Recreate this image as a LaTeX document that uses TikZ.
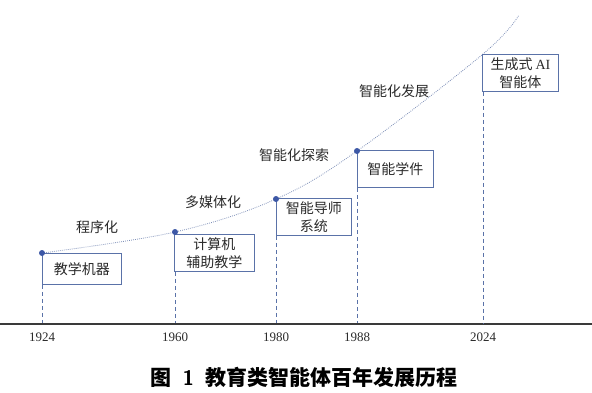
\documentclass[tikz,border=0pt]{standalone}
\usepackage{fontspec}
\setmainfont{Liberation Serif}
\newfontfamily\cjk{Noto Sans CJK SC}
\definecolor{boxblue}{HTML}{5A72A8}
\definecolor{dotblue}{HTML}{3D58A6}
\definecolor{curveblue}{HTML}{7F90B8}
\definecolor{axisgray}{HTML}{3A3A3A}
\definecolor{txtgray}{HTML}{2A2A2A}
\begin{document}
\begin{tikzpicture}[x=1pt,y=-1pt,
  evbox/.style={draw=boxblue,line width=0.9pt,fill=white,anchor=north west,inner sep=1pt,
     align=center,font=\cjk\fontsize{14}{18}\selectfont,text=txtgray},
  stage/.style={font=\cjk\fontsize{14}{16}\selectfont,text=txtgray},
  year/.style={font=\fontsize{13}{14}\selectfont,text=txtgray},
  vdash/.style={draw=boxblue,line width=1pt,dash pattern=on 4pt off 3pt},
  pt/.style={circle,fill=dotblue,inner sep=0pt,minimum size=6pt}]
\useasboundingbox (0,0) rectangle (592,392);
% axis
\draw[axisgray,line width=1.6pt] (0,324) -- (592,324);
% points
\coordinate (p1) at (42,253);
\coordinate (p2) at (175,232);
\coordinate (p3) at (276,199);
\coordinate (p4) at (357,151);
% curve
\draw[curveblue,line width=0.8pt,dash pattern=on 0.8pt off 1.2pt] plot[smooth,tension=0.6] coordinates {(42,253) (175,232) (276,199) (357,151) (483,54) (519,15)};
% boxes
\node[evbox,minimum width=79pt,minimum height=31pt] (b1) at (42,253) {教学机器};
\node[evbox,minimum width=80pt,minimum height=37pt] (b2) at (174,234) {计算机\\辅助教学};
\node[evbox,minimum width=75pt,minimum height=37pt] (b3) at (276,198) {智能导师\\系统};
\node[evbox,minimum width=76pt,minimum height=37pt] (b4) at (357,150) {智能学件};
\node[evbox,minimum width=76pt,minimum height=37pt] (b5) at (482,54) {生成式 {\rmfamily AI}\\智能体};
% axis foot coordinates
\coordinate (a1) at (42,323);
\coordinate (a2) at (175,323);
\coordinate (a3) at (276,323);
\coordinate (a4) at (357,323);
\coordinate (a5) at (483,323);
\draw[vdash] (b1.south west) -- (a1);
\draw[vdash] (b2.south west -| a2) -- (a2);
\draw[vdash] (b3.south west -| a3) -- (a3);
\draw[vdash] (b4.south west -| a4) -- (a4);
\draw[vdash] (b5.south west -| a5) -- (a5);
% dots
\node[pt] (d1) at (p1) {};
\node[pt] (d2) at (p2) {};
\node[pt] (d3) at (p3) {};
\node[pt] (d4) at (p4) {};
% years
\node[year] (y1) at (42,337) {1924};
\node[year] (y2) at (175,337) {1960};
\node[year] (y3) at (276,337) {1980};
\node[year] (y4) at (357,337) {1988};
\node[year] (y5) at (483,337) {2024};
% stage labels
\node[stage] (s1) at (97,227) {程序化};
\node[stage] (s2) at (213,202) {多媒体化};
\node[stage] (s3) at (294,155) {智能化探索};
\node[stage] (s4) at (394,91) {智能化发展};
% caption
\node[font=\cjk\bfseries\fontsize{21}{24}\selectfont,text=black] (cap) at (304,377) {图\hspace{0.55em}{\sffamily\bfseries 1}\hspace{0.55em}教育类智能体百年发展历程};
\end{tikzpicture}
\end{document}
